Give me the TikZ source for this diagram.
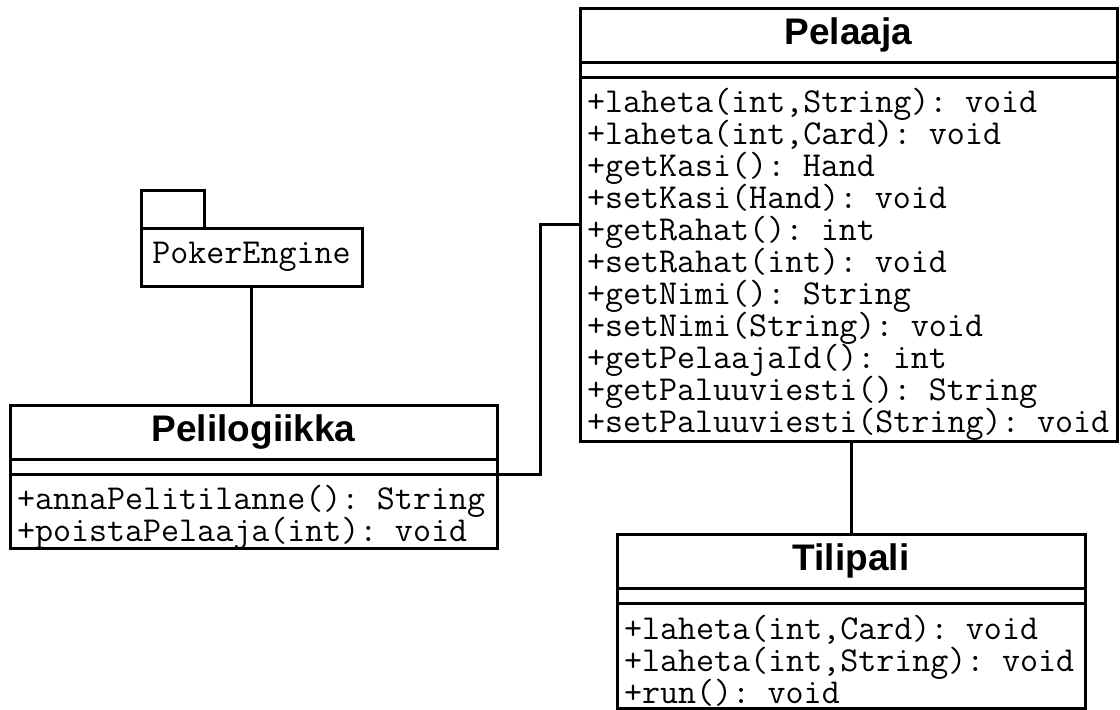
\documentclass[tikz,border=0pt]{standalone}
\usepackage{fontspec}
\setmainfont{Liberation Sans}
\setmonofont{Latin Modern Mono}
\usetikzlibrary{positioning}
\newcommand{\tiivis}{\lineskiplimit=-20pt\relax\rule{0pt}{35pt}}

\begin{document}
\begin{tikzpicture}[x=1pt, y=-1pt, line width=3pt,
    otsikko/.style={draw, outer sep=0pt, inner sep=0pt, minimum height=54pt, font=\bfseries\fontsize{37}{40}\selectfont},
    rako/.style={draw, outer sep=0pt, inner sep=0pt, minimum height=15pt},
    metodit/.style={draw, outer sep=0pt, inner xsep=7pt, inner ysep=0pt, align=left, font=\ttfamily\fontsize{35}{32}\selectfont, execute at begin node=\tiivis},
    paketti/.style={draw, outer sep=0pt, inner sep=0pt, font=\ttfamily\fontsize{35}{32}\selectfont},
    viiva/.style={-, line width=3pt}]
\useasboundingbox (0,0) rectangle (1120,710);

% Pelaaja
\node[otsikko, minimum width=537pt, anchor=north west] (pelaaja) at (580,8) {Pelaaja};
\node[rako, minimum width=537pt, below=0pt of pelaaja] (pelaajaRako) {};
\node[metodit, text width=523pt, minimum height=364pt, below=0pt of pelaajaRako] (pelaajaOps) {+laheta(int,String): void\\
+laheta(int,Card): void\\
+getKasi(): Hand\\
+setKasi(Hand): void\\
+getRahat(): int\\
+setRahat(int): void\\
+getNimi(): String\\
+setNimi(String): void\\
+getPelaajaId(): int\\
+getPaluuviesti(): String\\
+setPaluuviesti(String): void};

% Pelilogiikka
\node[otsikko, minimum width=487pt, anchor=north west] (logiikka) at (10,405) {Pelilogiikka};
\node[rako, minimum width=487pt, below=0pt of logiikka] (logiikkaRako) {};
\node[metodit, text width=473pt, minimum height=74pt, below=0pt of logiikkaRako] (logiikkaOps) {+annaPelitilanne(): String\\
+poistaPelaaja(int): void};

% Tilipali
\node[otsikko, minimum width=468pt, anchor=north west] (tilipali) at (617,534) {Tilipali};
\node[rako, minimum width=468pt, below=0pt of tilipali] (tilipaliRako) {};
\node[metodit, text width=454pt, minimum height=105pt, below=0pt of tilipaliRako] (tilipaliOps) {+laheta(int,Card): void\\
+laheta(int,String): void\\
+run(): void};

% PokerEngine
\node[paketti, minimum width=221pt, minimum height=58pt, anchor=north west] (engine) at (141,228) {PokerEngine};
\node[paketti, minimum width=63pt, minimum height=38pt, anchor=south west] (engineTab) at (engine.north west) {};

% yhteydet
\coordinate (kulma) at (540,224);
\draw[viiva] (engine.south) -- (engine.south |- logiikka.north);
\draw[viiva] (logiikkaRako.south east) -| (kulma) -- (kulma -| pelaajaOps.west);
\draw[viiva] (tilipali.north) -- (tilipali.north |- pelaajaOps.south);
\end{tikzpicture}
\end{document}
